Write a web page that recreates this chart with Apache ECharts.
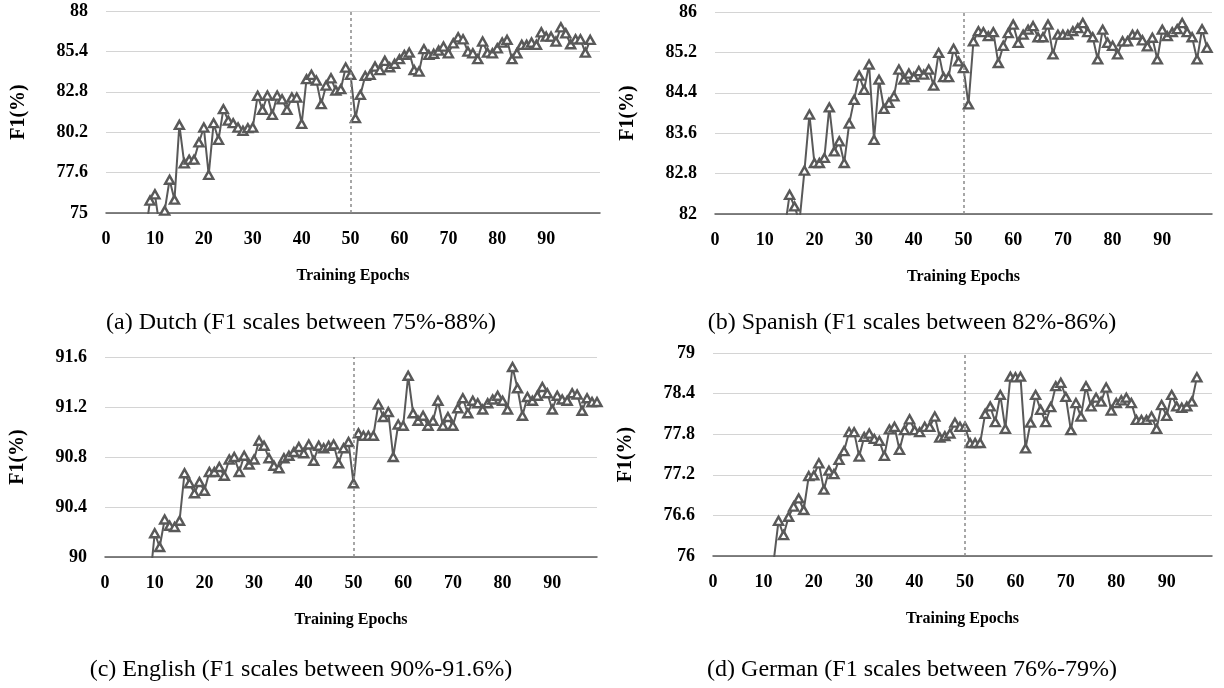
<!DOCTYPE html>
<html>
<head>
<meta charset="utf-8">
<script src="https://cdn.jsdelivr.net/npm/echarts@6/dist/echarts.min.js"></script>
<style>
html,body{margin:0;padding:0;background:#fff;}
#chart{width:1224px;height:688px;}
</style>
</head>
<body>
<div id="chart"></div>
<script>
// last epoch on each x axis (categories run 0..N)
const dutchEpochs = 101, spanishEpochs = 100, englishEpochs = 99, germanEpochs = 99;

// F1 per epoch, starting at the given epoch (earlier ones are below the axis)
const dutchStart = 8;
const dutchF1 = [73.5, 75.8, 76.2, 74.0, 75.15, 77.14, 75.86, 80.67, 78.2, 78.43, 78.43, 79.54, 80.5, 77.46, 80.78, 79.71,
  81.68, 80.95, 80.78, 80.5, 80.29, 80.46, 80.5, 82.54, 81.64, 82.56, 81.32, 82.56, 82.32, 81.64, 82.43, 82.43,
  80.74, 83.61, 83.89, 83.52, 82.0, 83.2, 83.67, 82.88, 82.97, 84.36, 83.89, 81.1, 82.6, 83.82, 83.89, 84.42,
  84.2, 84.79, 84.38, 84.6, 84.9, 85.17, 85.32, 84.2, 84.1, 85.54, 85.17, 85.24, 85.45, 85.71, 85.28, 85.92,
  86.31, 86.18, 85.39, 85.28, 84.9, 86.03, 85.32, 85.28, 85.6, 85.97, 86.14, 84.9, 85.28, 85.82, 85.82, 85.97,
  85.82, 86.63, 86.35, 86.35, 86.03, 86.95, 86.56, 85.86, 86.18, 86.18, 85.32, 86.14];

const spanishStart = 14;
const spanishF1 = [81.68, 82.38, 82.15, 81.85, 82.86, 83.97, 83.01, 83.01, 83.11, 84.11, 83.24, 83.44, 83.01, 83.79,
  84.26, 84.74, 84.46, 84.96, 83.47, 84.66, 84.08, 84.2, 84.33, 84.86, 84.66, 84.78, 84.71, 84.83, 84.76, 84.86,
  84.54, 85.19, 84.71, 84.71, 85.27, 85.02, 84.89, 84.17, 85.42, 85.62, 85.6, 85.52, 85.6, 84.99, 85.33, 85.58,
  85.75, 85.39, 85.55, 85.65, 85.72, 85.5, 85.5, 85.75, 85.16, 85.55, 85.55, 85.55, 85.62, 85.68, 85.78, 85.6,
  85.5, 85.06, 85.65, 85.39, 85.33, 85.16, 85.42, 85.42, 85.55, 85.55, 85.44, 85.32, 85.49, 85.06, 85.65, 85.52,
  85.6, 85.66, 85.78, 85.6, 85.5, 85.06, 85.66, 85.29];

const englishStart = 9;
const englishF1 = [89.79, 90.19, 90.08, 90.3, 90.25, 90.24, 90.29, 90.67, 90.59, 90.51, 90.6, 90.53, 90.68, 90.68,
  90.72, 90.65, 90.78, 90.8, 90.68, 90.81, 90.74, 90.78, 90.93, 90.89, 90.79, 90.73, 90.71, 90.79, 90.81, 90.84,
  90.88, 90.83, 90.9, 90.77, 90.89, 90.87, 90.89, 90.9, 90.75, 90.87, 90.92, 90.59, 90.99, 90.97, 90.97, 90.97,
  91.22, 91.12, 91.16, 90.8, 91.06, 91.05, 91.45, 91.15, 91.09, 91.13, 91.05, 91.09, 91.25, 91.05, 91.12, 91.05,
  91.19, 91.27, 91.15, 91.25, 91.23, 91.18, 91.23, 91.26, 91.29, 91.25, 91.18, 91.52, 91.35, 91.13, 91.28, 91.25,
  91.29, 91.36, 91.31, 91.18, 91.29, 91.26, 91.25, 91.31, 91.3, 91.17, 91.27, 91.24, 91.24];

const germanStart = 12;
const germanF1 = [75.9, 76.52, 76.31, 76.58, 76.73, 76.85, 76.68, 77.18, 77.19, 77.37, 76.98, 77.26, 77.21, 77.42,
  77.55, 77.83, 77.83, 77.47, 77.76, 77.81, 77.73, 77.7, 77.48, 77.87, 77.91, 77.57, 77.86, 78.02, 77.86, 77.83,
  77.91, 77.91, 78.06, 77.75, 77.77, 77.81, 77.97, 77.91, 77.91, 77.67, 77.67, 77.67, 78.1, 78.21, 77.98, 78.38,
  77.88, 78.65, 78.64, 78.65, 77.59, 77.97, 78.38, 78.16, 77.98, 78.2, 78.51, 78.56, 78.35, 77.86, 78.26, 78.06,
  78.51, 78.21, 78.34, 78.28, 78.49, 78.15, 78.26, 78.3, 78.34, 78.26, 78.01, 78.01, 78.01, 78.06, 77.88, 78.23,
  78.07, 78.38, 78.21, 78.19, 78.21, 78.28, 78.64];

// y axis [min, max, step]
const dutchY = [75, 88, 2.6];
const spanishY = [82, 86, 0.8];
const englishY = [90, 91.6, 0.4];
const germanY = [76, 79, 0.6];

const captions = [
  '(a) Dutch (F1 scales between 75%-88%)',
  '(b) Spanish (F1 scales between 82%-86%)',
  '(c) English (F1 scales between 90%-91.6%)',
  '(d) German (F1 scales between 76%-79%)'
];
const splitEpoch = '50';

const labelFont = '"Liberation Serif", "DejaVu Serif", serif';

const makeCats = (n) => {
  let c = [];
  for (let i = 0; i <= n; i++) c.push(String(i));
  return c;
};
// put the values on their epochs, null elsewhere
const pad = (start, vals, n) => {
  let d = [];
  for (let i = 0; i <= n; i++) {
    let k = i - start;
    d.push(k >= 0 && k < vals.length ? vals[k] : null);
  }
  return d;
};

const panels = [
  {grid: {left: 106, top: 11, width: 494, height: 202}, n: dutchEpochs, start: dutchStart, vals: dutchF1, y: dutchY, cap: [301, 323]},
  {grid: {left: 715, top: 12, width: 497, height: 202}, n: spanishEpochs, start: spanishStart, vals: spanishF1, y: spanishY, cap: [912, 323]},
  {grid: {left: 105, top: 357, width: 492, height: 200}, n: englishEpochs, start: englishStart, vals: englishF1, y: englishY, cap: [301, 670]},
  {grid: {left: 713, top: 353, width: 499, height: 203}, n: germanEpochs, start: germanStart, vals: germanF1, y: germanY, cap: [912, 670]}
];

const myChart = echarts.init(document.getElementById('chart'));
myChart.setOption({
  animation: false,
  backgroundColor: '#ffffff',
  grid: panels.map(p => p.grid),
  xAxis: panels.map((p, i) => ({
    type: 'category',
    gridIndex: i,
    data: makeCats(p.n),
    boundaryGap: false,
    axisLine: {lineStyle: {color: '#595959', width: 1.5}},
    axisTick: {show: false},
    splitLine: {show: false},
    axisLabel: {
      interval: (idx) => idx % 10 === 0 && idx < 100,
      margin: 17,
      color: '#000',
      fontFamily: labelFont,
      fontWeight: 'bold',
      fontSize: 18
    },
    name: 'Training Epochs',
    nameLocation: 'middle',
    nameGap: 55,
    nameTextStyle: {color: '#000', fontFamily: labelFont, fontWeight: 'bold', fontSize: 16}
  })),
  yAxis: panels.map((p, i) => ({
    type: 'value',
    gridIndex: i,
    min: p.y[0],
    max: p.y[1],
    interval: p.y[2],
    axisLine: {show: false},
    axisTick: {show: false},
    splitLine: {lineStyle: {color: '#d4d4d4', width: 1}},
    axisLabel: {
      formatter: v => String(+v.toFixed(1)),
      margin: 18,
      color: '#000',
      fontFamily: labelFont,
      fontWeight: 'bold',
      fontSize: 18
    },
    name: 'F1(%)',
    nameLocation: 'middle',
    nameRotate: 90,
    nameGap: 77,
    nameTextStyle: {color: '#000', fontFamily: labelFont, fontWeight: 'bold', fontSize: 20}
  })),
  series: panels.map((p, i) => ({
    type: 'line',
    xAxisIndex: i,
    yAxisIndex: i,
    data: pad(p.start, p.vals, p.n),
    clip: true,
    symbol: 'triangle',
    symbolSize: [9, 8],
    showAllSymbol: true,
    lineStyle: {color: '#595959', width: 2},
    itemStyle: {color: '#ffffff', borderColor: '#595959', borderWidth: 2.4},
    markLine: {
      silent: true,
      symbol: 'none',
      label: {show: false},
      lineStyle: {color: '#8a8a8a', type: [3, 3], width: 1.5},
      data: [{xAxis: splitEpoch}]
    }
  })),
  graphic: panels.map((p, i) => ({
    type: 'text',
    x: p.cap[0],
    y: p.cap[1],
    style: {
      text: captions[i],
      font: '24px "Liberation Serif", serif',
      fill: '#000',
      textAlign: 'center',
      textVerticalAlign: 'middle'
    }
  }))
});
</script>
</body>
</html>
